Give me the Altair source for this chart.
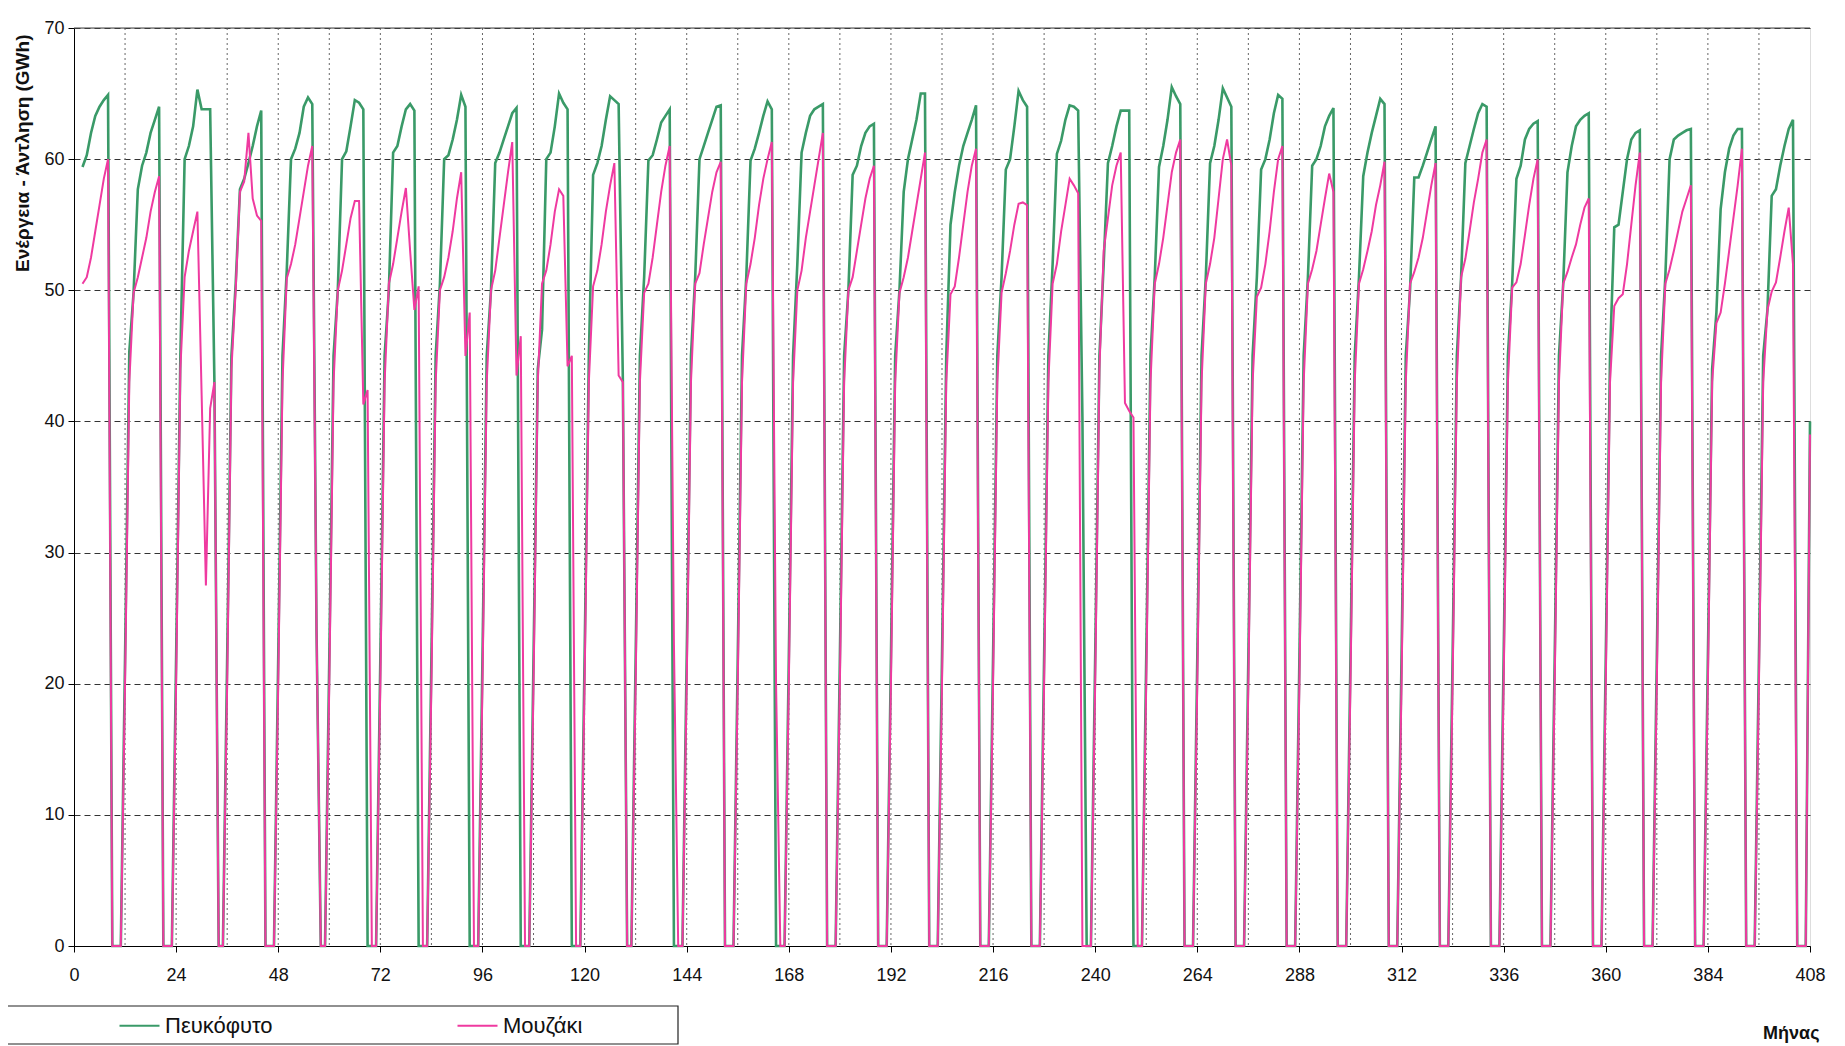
import altair as alt
import pandas as pd

series_names = ["Πευκόφυτο", "Μουζάκι"]
series_colors = ["#3a9a68", "#ef3aa0"]

# Monthly values, one row per year (months 12k+1 ... 12k+12)
pefkofyto = [
    [None, 59.4, 60.3, 62.0, 63.3, 64.0, 64.5, 64.9, 0, 0, 0, 22],
    [45.3, 49.8, 57.7, 59.5, 60.5, 62.0, 63.0, 64.0, 0, 0, 0, 22],
    [45, 60.0, 61.0, 62.5, 65.3, 63.8, 63.8, 63.8, 43, 0, 0, 22],
    [45, 50.5, 57.7, 58.5, 59.7, 61.0, 62.5, 63.7, 0, 0, 0, 22],
    [45, 51.5, 60.0, 60.8, 62.0, 64.0, 64.7, 64.2, 24, 0, 0, 22],
    [45, 50.0, 60.0, 60.6, 62.5, 64.5, 64.3, 63.8, 0, 0, 0, 22],
    [45, 50.0, 60.5, 61.0, 62.5, 63.8, 64.2, 63.7, 0, 0, 0, 22],
    [45, 50.5, 60.0, 60.3, 61.5, 63.0, 64.9, 64.0, 0, 0, 0, 22],
    [45, 50.0, 59.7, 60.5, 61.5, 62.5, 63.5, 63.9, 0, 0, 0, 22],
    [44, 47.0, 60.0, 60.5, 62.5, 65.0, 64.3, 63.8, 0, 0, 0, 22],
    [45, 58.8, 59.7, 61.0, 63.0, 64.8, 64.5, 64.2, 43, 0, 0, 22],
    [45, 51.0, 59.9, 60.3, 61.5, 62.8, 63.3, 63.8, 0, 0, 0, 22],
    [45, 51.0, 60.0, 61.0, 62.0, 63.0, 64.0, 64.1, 0, 0, 0, 22],
    [45, 51.0, 59.9, 60.8, 62.0, 63.3, 64.4, 63.8, 0, 0, 0, 22],
    [45, 52.0, 60.5, 62.0, 63.3, 63.8, 64.0, 64.2, 0, 0, 0, 22],
    [45, 50.0, 58.8, 59.5, 61.0, 62.0, 62.5, 62.7, 0, 0, 0, 22],
    [45, 50.0, 57.5, 60.0, 61.5, 63.0, 65.0, 65.0, 0, 0, 0, 22],
    [45, 55.0, 57.5, 59.5, 61.0, 62.0, 63.0, 64.1, 0, 0, 0, 22],
    [45, 51.0, 59.2, 60.0, 62.5, 65.2, 64.5, 64.0, 0, 0, 0, 22],
    [45, 52.0, 60.4, 61.4, 63.0, 64.1, 64.0, 63.7, 40.3, 0, 0, 22],
    [45, 52.0, 59.7, 61.0, 62.5, 63.7, 63.7, 63.7, 0, 0, 0, 22],
    [45, 51.0, 59.4, 61.0, 63.0, 65.5, 64.8, 64.2, 0, 0, 0, 22],
    [45, 51.0, 59.7, 61.0, 63.0, 65.4, 64.7, 64.0, 0, 0, 0, 22],
    [45, 51.0, 59.2, 60.0, 61.5, 63.5, 64.9, 64.6, 0, 0, 0, 22],
    [45, 51.0, 59.5, 60.0, 61.0, 62.5, 63.3, 63.9, 0, 0, 0, 22],
    [45, 51.0, 58.7, 60.5, 62.0, 63.3, 64.6, 64.2, 0, 0, 0, 22],
    [45, 50.0, 58.6, 58.6, 59.5, 60.5, 61.5, 62.5, 0, 0, 0, 22],
    [45, 51.0, 59.7, 61.0, 62.3, 63.5, 64.2, 64.0, 0, 0, 0, 22],
    [45, 50.5, 58.5, 59.5, 61.5, 62.3, 62.7, 62.9, 0, 0, 0, 22],
    [45, 50.5, 59.0, 61.0, 62.5, 63.0, 63.3, 63.5, 0, 0, 0, 22],
    [45, 54.8, 55.0, 57.5, 60.0, 61.5, 62.0, 62.2, 0, 0, 0, 22],
    [45, 51.0, 60.0, 61.5, 61.8, 62.0, 62.2, 62.3, 0, 0, 0, 22],
    [44, 48.3, 56.2, 59.0, 60.8, 61.8, 62.3, 62.3, 0, 0, 0, 22],
    [45, 48.5, 57.2, 57.7, 59.5, 61.0, 62.3, 63.0, 0, 0, 0, 40],
]

mouzaki = [
    [None, 50.5, 51.0, 52.5, 54.5, 56.5, 58.5, 60.0, 0, 0, 0, 20],
    [43, 49.8, 51.0, 52.5, 54.0, 56.0, 57.5, 58.7, 0, 0, 0, 20],
    [44, 51.0, 53.0, 54.5, 56.0, 42.0, 27.5, 41.0, 43.0, 0, 0, 20],
    [44, 50.0, 57.5, 58.3, 62.0, 57.0, 55.7, 55.3, 0, 0, 0, 20],
    [43, 50.9, 52.0, 53.5, 55.5, 57.5, 59.5, 61.0, 24, 0, 0, 20],
    [43, 50.0, 51.5, 53.5, 55.5, 56.8, 56.8, 41.3, 42.4, 0, 0, 20],
    [43, 50.5, 52.0, 54.0, 56.0, 57.8, 53.0, 48.5, 50.3, 0, 0, 20],
    [43, 50.0, 51.0, 52.5, 54.5, 57.0, 59.0, 45.0, 48.3, 0, 0, 20],
    [43, 50.0, 51.5, 54.0, 56.5, 59.0, 61.3, 43.5, 46.5, 0, 0, 20],
    [43, 50.5, 51.5, 53.5, 56.0, 57.7, 57.2, 44.2, 45.0, 0, 0, 20],
    [43, 50.3, 51.5, 53.5, 56.0, 58.0, 59.7, 43.5, 43.0, 0, 0, 20],
    [43, 49.8, 50.5, 52.5, 55.0, 57.5, 59.5, 61.0, 23, 0, 0, 20],
    [43, 50.5, 51.3, 53.5, 55.5, 57.5, 59.0, 59.8, 0, 0, 0, 20],
    [43, 50.5, 52.0, 54.0, 56.5, 58.5, 60.0, 61.3, 20, 0, 0, 20],
    [43, 50.0, 51.5, 54.0, 56.0, 58.0, 60.0, 62.0, 0, 0, 0, 20],
    [43, 50.0, 51.0, 53.0, 55.0, 57.0, 58.5, 59.5, 0, 0, 0, 20],
    [43, 49.8, 51.0, 52.5, 54.5, 56.5, 58.5, 60.5, 0, 0, 0, 20],
    [43, 49.7, 50.3, 52.5, 55.0, 57.5, 59.5, 60.8, 0, 0, 0, 20],
    [43, 49.8, 51.3, 53.0, 55.0, 56.6, 56.7, 56.5, 0, 0, 0, 20],
    [43, 50.5, 52.0, 54.5, 56.5, 58.5, 58.0, 57.4, 0, 0, 0, 20],
    [44, 53.0, 55.5, 58.0, 59.5, 60.5, 41.4, 40.8, 40.3, 0, 0, 20],
    [43, 50.5, 52.0, 54.0, 56.5, 59.0, 60.5, 61.5, 0, 0, 0, 20],
    [43, 50.5, 52.0, 54.0, 57.0, 60.0, 61.5, 59.5, 0, 0, 0, 20],
    [43, 49.5, 50.2, 52.0, 54.5, 57.5, 60.0, 61.0, 0, 0, 0, 20],
    [43, 50.5, 51.6, 53.0, 55.0, 57.0, 58.9, 57.5, 0, 0, 0, 20],
    [43, 50.5, 51.6, 53.0, 54.5, 56.5, 58.0, 59.8, 0, 0, 0, 20],
    [43, 50.5, 51.4, 52.5, 54.0, 56.0, 58.0, 59.7, 0, 0, 0, 20],
    [43, 51.0, 52.4, 54.5, 56.7, 58.5, 60.5, 61.5, 0, 0, 0, 20],
    [43, 50.2, 50.6, 52.0, 54.2, 56.5, 58.5, 60.0, 0, 0, 0, 20],
    [43, 50.5, 51.4, 52.5, 53.5, 55.0, 56.3, 57.0, 0, 0, 0, 20],
    [43, 48.8, 49.4, 49.7, 52.0, 55.0, 58.0, 60.5, 0, 0, 0, 20],
    [43, 50.5, 51.6, 53.0, 54.5, 56.0, 57.0, 58.0, 0, 0, 0, 20],
    [43, 47.5, 48.3, 50.5, 53.0, 55.5, 58.0, 60.8, 0, 0, 0, 20],
    [43, 48.5, 49.9, 50.6, 52.5, 54.5, 56.3, 52.0, 0, 0, 0, 39],
]

x_tick_values = list(range(0, 409, 24))
y_tick_values = list(range(0, 71, 10))
grid_months = list(range(12, 408, 12))

months = list(range(1, 409))
g_vals = [v for yr in pefkofyto for v in yr]
m_vals = [v for yr in mouzaki for v in yr]

df = pd.DataFrame({
    "month": months + months,
    "value": g_vals + m_vals,
    "series": [series_names[0]] * len(months) + [series_names[1]] * len(months),
})

FONT = "Liberation Sans"

x_scale = alt.Scale(domain=[0, 408], nice=False, zero=False)
y_scale = alt.Scale(domain=[0, 70], nice=False)

x_axis = alt.Axis(
    values=x_tick_values, grid=False, title="Μήνας", titleFontWeight="bold",
    titleFontSize=18, titleFont=FONT, titleAnchor="end", titleAlign="right",
    titleX=1745, titleY=92, titleBaseline="alphabetic", titleColor="#111",
    labelFontSize=18, labelFont=FONT, labelPadding=14, tickSize=6,
    domainColor="#000", tickColor="#000", labelColor="#111", labelFlush=False,
)
y_axis = alt.Axis(
    values=y_tick_values, grid=True, gridColor="#333", gridDash=[6, 4], gridWidth=1,
    title="Ενέργεια - Άντληση (GWh)", titleFontWeight="bold", titleFontSize=19,
    titleFont=FONT, titleX=-52, titleY=6, titleAlign="right", titleBaseline="middle",
    titleAngle=270, titleColor="#111", labelFontSize=18, labelFont=FONT, tickSize=6,
    labelPadding=4, domainColor="#000", tickColor="#000", labelColor="#111",
)

color_enc = alt.Color(
    "series:N",
    scale=alt.Scale(domain=series_names, range=series_colors),
    legend=alt.Legend(
        title=None, orient="none", legendX=44, legendY=976, direction="horizontal",
        symbolType="stroke", symbolSize=1600, symbolStrokeWidth=2.2,
        labelFontSize=22, labelFont=FONT, labelColor="#111", columnPadding=180,
        labelOffset=4, padding=0,
    ),
)

vgrid = alt.Chart(pd.DataFrame({"month": grid_months})).mark_rule(
    color="#666", strokeDash=[2, 3], strokeWidth=1
).encode(x=alt.X("month:Q", scale=x_scale, axis=x_axis))

top_line = alt.Chart(pd.DataFrame({"v": [70]})).mark_rule(
    color="#444", strokeWidth=1
).encode(y=alt.Y("v:Q", scale=y_scale, axis=y_axis))

base = alt.Chart(df)
green_line = base.transform_filter(alt.datum.series == series_names[0]).mark_line(
    strokeWidth=2.6
).encode(
    x=alt.X("month:Q", scale=x_scale, axis=x_axis),
    y=alt.Y("value:Q", scale=y_scale, axis=y_axis),
    color=color_enc,
)
magenta_line = base.transform_filter(alt.datum.series == series_names[1]).mark_line(
    strokeWidth=2.0
).encode(
    x=alt.X("month:Q", scale=x_scale, axis=x_axis),
    y=alt.Y("value:Q", scale=y_scale, axis=y_axis),
    color=color_enc,
)

frame = alt.Chart(pd.DataFrame({"a": [0]})).mark_rect(
    fillOpacity=0, stroke="#222", strokeWidth=1.2
).encode(x=alt.value(-80), x2=alt.value(604), y=alt.value(978), y2=alt.value(1016))

chart = alt.layer(vgrid, top_line, green_line, magenta_line, frame).properties(
    width=1736, height=918,
    padding={"left": 66, "top": 20, "right": 27, "bottom": 100},
    autosize=alt.AutoSizeParams(type="none"),
).configure_view(stroke=None).configure(background="white")

chart.save("out.html", embed_options={"renderer": "svg", "actions": False})
